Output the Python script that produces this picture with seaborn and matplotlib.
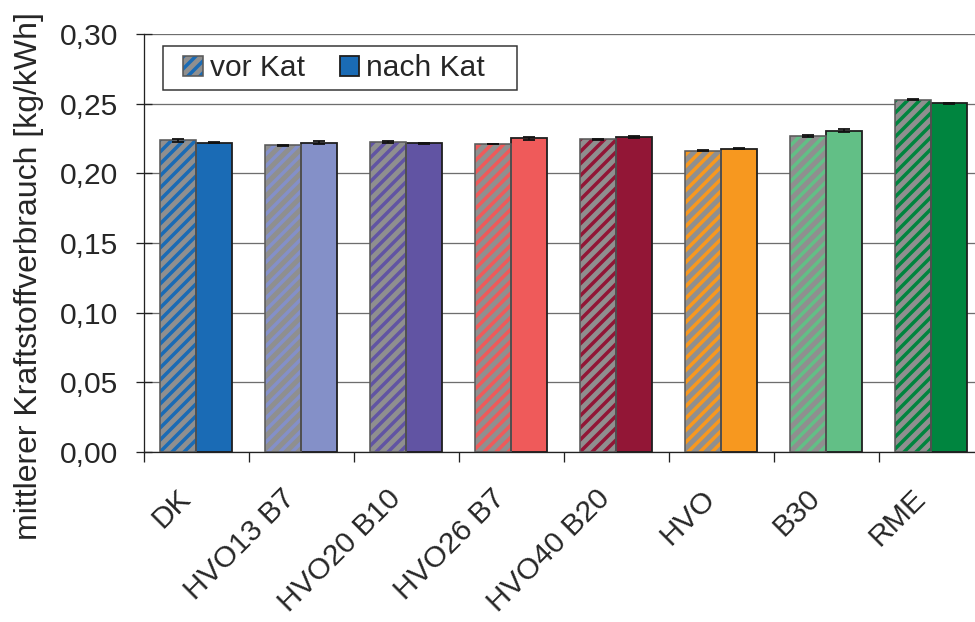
import matplotlib
matplotlib.use("Agg")
import matplotlib.pyplot as plt
import seaborn as sns
import pandas as pd
import numpy as np
from matplotlib.patches import Rectangle, Patch
from matplotlib.legend_handler import HandlerTuple
from matplotlib.ticker import FuncFormatter, FixedLocator

categories = ["DK", "HVO13 B7", "HVO20 B10", "HVO26 B7", "HVO40 B20", "HVO", "B30", "RME"]
vor_kat = [0.2237, 0.2200, 0.2226, 0.2210, 0.2246, 0.2161, 0.2268, 0.2527]
nach_kat = [0.2220, 0.2220, 0.2215, 0.2252, 0.2262, 0.2177, 0.2307, 0.2503]
err_vor = [0.0010, 0.0005, 0.0005, 0.0003, 0.0004, 0.0003, 0.0008, 0.0003]
err_nach = [0.0005, 0.0012, 0.0005, 0.0012, 0.0007, 0.0003, 0.0008, 0.0004]
colors = ["#1a6bb5", "#8490c8", "#6154a3", "#ef5a5a", "#921636", "#f7981f", "#62bf86", "#00853f"]
series = ["vor Kat", "nach Kat"]

sns.set_style("white")
plt.rcParams["font.family"] = ["Liberation Sans", "DejaVu Sans"]
plt.rcParams["hatch.linewidth"] = 3.5

df = pd.DataFrame({
    "cat": categories * 2,
    "val": vor_kat + nach_kat,
    "kat": [series[0]] * len(categories) + [series[1]] * len(categories),
})

DPI = 72
W, H = 975, 622
fig = plt.figure(figsize=(W / DPI, H / DPI), dpi=DPI)
ax = fig.add_axes([143.5 / W, (H - 452) / H, 840 / W, (452 - 34) / H])

sns.barplot(data=df, x="cat", y="val", hue="kat", order=categories, hue_order=series,
            errorbar=None, width=0.69, dodge=True, legend=False, ax=ax, zorder=2)

gray = "#8f8f8f"
vor_bars = list(ax.containers[0])
nach_bars = list(ax.containers[1])
for i, b in enumerate(vor_bars):
    b.set_facecolor(gray)
    b.set_edgecolor(colors[i])
    b.set_hatch("//")
    b.set_linewidth(0)
    ax.add_patch(Rectangle((b.get_x(), b.get_y()), b.get_width(), b.get_height(),
                           fill=False, edgecolor="#5a5a5a", lw=1.6, zorder=3))
for i, b in enumerate(nach_bars):
    b.set_facecolor(colors[i])
    b.set_edgecolor("#1e1e1e")
    b.set_linewidth(1.8)

xv = [b.get_x() + b.get_width() / 2 for b in vor_bars]
xn = [b.get_x() + b.get_width() / 2 for b in nach_bars]
ax.errorbar(xv, vor_kat, yerr=err_vor, fmt="none", ecolor="#111111", capsize=6,
            elinewidth=1.8, capthick=1.8, zorder=4)
ax.errorbar(xn, nach_kat, yerr=err_nach, fmt="none", ecolor="#111111", capsize=6,
            elinewidth=1.8, capthick=1.8, zorder=4)

ax.set_xlim(-0.5, len(categories) - 0.5)
ax.set_ylim(0, 0.30)
ax.set_yticks(np.arange(0, 0.301, 0.05))
ax.yaxis.set_major_formatter(FuncFormatter(lambda v, p: f"{v:.2f}".replace(".", ",")))
ax.yaxis.grid(True, color="#6e6e6e", lw=1.3, zorder=0)
ax.set_axisbelow(True)
ax.tick_params(axis="y", direction="inout", length=16, width=1.3, color="#222222",
               labelsize=30, pad=17, left=True)

ax.set_xticks(np.arange(len(categories)) - 0.19)
ax.set_xticklabels(categories, rotation=45, ha="right", rotation_mode="anchor")
ax.tick_params(axis="x", which="major", length=0, labelsize=30, pad=32)
ax.xaxis.set_minor_locator(FixedLocator(np.arange(-0.5, len(categories), 1.0)))
ax.tick_params(axis="x", which="minor", direction="out", length=10, width=1.3, color="#222222", bottom=True)

for s in ["top", "right"]:
    ax.spines[s].set_visible(False)
for s in ["left", "bottom"]:
    ax.spines[s].set_color("#222222")
    ax.spines[s].set_linewidth(1.3)

ax.set_xlabel("")
ax.set_ylabel("")
fig.text(29 / W, 1 - 276.5 / H, "mittlerer Kraftstoffverbrauch [kg/kWh]", fontsize=32,
         rotation=90, ha="center", va="center")

# legend frame
fig.patches.append(Rectangle((163 / W, 1 - 90 / H), (517 - 163) / W, 44 / H, transform=fig.transFigure,
                             facecolor="white", edgecolor="#333333", lw=1.5, zorder=5))
h_vor = (Patch(facecolor=gray, edgecolor=colors[0], hatch="//", lw=0),
         Patch(facecolor="none", edgecolor="#5a5a5a", lw=1.6))
h_nach = Patch(facecolor=colors[0], edgecolor="#1e1e1e", lw=1.8)
leg = fig.legend([h_vor, h_nach], series, handler_map={tuple: HandlerTuple(ndivide=1, pad=0)},
                 loc="center left", bbox_to_anchor=(183 / W, 1 - 68.5 / H), ncol=2, fontsize=30,
                 frameon=False, handlelength=0.65, handleheight=0.65, handletextpad=0.25,
                 columnspacing=1.15, borderpad=0, borderaxespad=0)
leg.set_zorder(6)

fig.savefig("out.png", dpi=DPI)
